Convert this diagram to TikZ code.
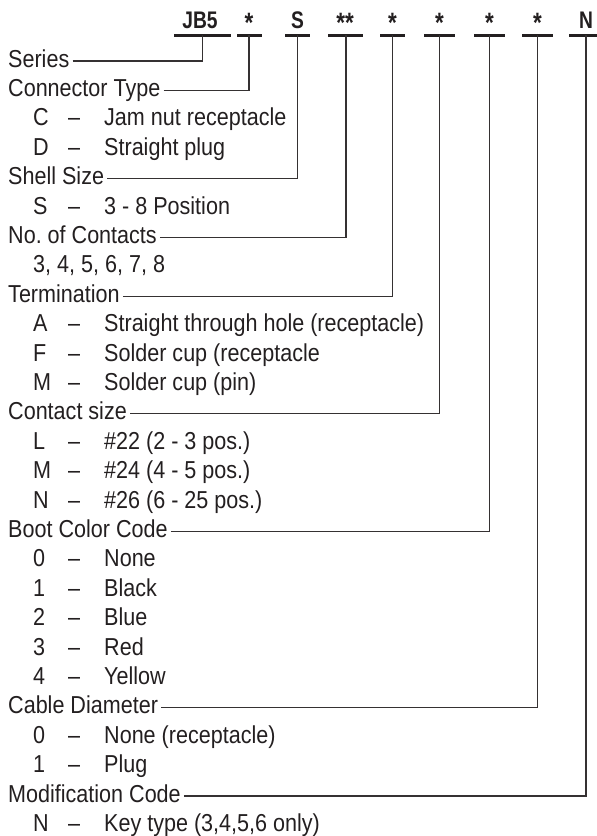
\documentclass[tikz,border=0pt]{standalone}
\usepackage{fontspec}
\setmainfont{Liberation Sans}[FakeStretch=0.88]
\newfontfamily\hdrfont{Liberation Sans}[FakeStretch=0.8]
\definecolor{ink}{HTML}{231F20}
\frenchspacing
\begin{document}
\begin{tikzpicture}[x=1bp,y=-1bp,
  lbl/.style={anchor=base west, inner sep=0, font=\fontsize{24.5bp}{29bp}\selectfont, text=ink},
  dsh/.style={anchor=base, inner sep=0, font=\fontsize{24.5bp}{29bp}\selectfont, text=ink},
  hdr/.style={anchor=base, inner sep=0, font=\hdrfont\bfseries\fontsize{24bp}{28bp}\selectfont, text=ink},
  hast/.style={anchor=base, inner sep=0, font=\hdrfont\bfseries\fontsize{28bp}{32bp}\selectfont, text=ink},
  uline/.style={line width=3bp, draw=ink},
  conn/.style={line width=1.3bp, draw=ink!92}]
\useasboundingbox (0,0) rectangle (597,836);

% header
\node[hdr] (h1) at (200,28) {JB5};
\node[hast] (h2) at (249,32) {*};
\node[hdr] (h3) at (297.5,28) {S};
\node[hast] (h4) at (345,32) {**};
\node[hast] (h5) at (392.5,32) {*};
\node[hast] (h6) at (439.5,32) {*};
\node[hast] (h7) at (489.5,32) {*};
\node[hast] (h8) at (537.5,32) {*};
\node[hdr] (h9) at (586,28) {N};

\coordinate (t1) at (202.5,35);
\coordinate (t2) at (249,35);
\coordinate (t3) at (297.5,35);
\coordinate (t4) at (346,35);
\coordinate (t5) at (392.5,35);
\coordinate (t6) at (439.5,35);
\coordinate (t7) at (489.5,35);
\coordinate (t8) at (537.5,35);
\coordinate (t9) at (586,35);

\draw[uline] (174,35) -- (231,35);
\draw[uline] (237,35) -- (262,35);
\draw[uline] (285,35) -- (310,35);
\draw[uline] (328,35) -- (363,35);
\draw[uline] (380,35) -- (405,35);
\draw[uline] (424,35) -- (455,35);
\draw[uline] (474,35) -- (505,35);
\draw[uline] (522,35) -- (553,35);
\draw[uline] (569,35) -- (597,35);

% labels
\node[lbl] (series) at (8,67) {Series};
\node[lbl] (ctype) at (8,96.4) {Connector Type};
\node[lbl] (cC) at (33,125.8) {C}; \node[dsh] (dC) at (74,125.8) {–}; \node[lbl] (xC) at (104,125.8) {Jam nut receptacle};
\node[lbl] (cD) at (33,155.2) {D}; \node[dsh] (dD) at (74,155.2) {–}; \node[lbl] (xD) at (104,155.2) {Straight plug};
\node[lbl] (shell) at (8,184.6) {Shell Size};
\node[lbl] (cS) at (33,214) {S}; \node[dsh] (dS) at (74,214) {–}; \node[lbl] (xS) at (104,214) {3 - 8 Position};
\node[lbl] (ncont) at (8,243.4) {No. of Contacts};
\node[lbl] (xN) at (33,272.8) {3, 4, 5, 6, 7, 8};
\node[lbl] (term) at (8,302.2) {Termination};
\node[lbl] (cA) at (33,331.6) {A}; \node[dsh] (dA) at (74,331.6) {–}; \node[lbl] (xA) at (104,331.6) {Straight through hole (receptacle)};
\node[lbl] (cF) at (33,361) {F}; \node[dsh] (dF) at (74,361) {–}; \node[lbl] (xF) at (104,361) {Solder cup (receptacle};
\node[lbl] (cM) at (33,390.4) {M}; \node[dsh] (dM) at (74,390.4) {–}; \node[lbl] (xM) at (104,390.4) {Solder cup (pin)};
\node[lbl] (csize) at (8,419.8) {Contact size};
\node[lbl] (cL2) at (33,449.2) {L}; \node[dsh] (dL2) at (74,449.2) {–}; \node[lbl] (xL2) at (104,449.2) {\#22 (2 - 3 pos.)};
\node[lbl] (cM2) at (33,478.6) {M}; \node[dsh] (dM2) at (74,478.6) {–}; \node[lbl] (xM2) at (104,478.6) {\#24 (4 - 5 pos.)};
\node[lbl] (cN2) at (33,508) {N}; \node[dsh] (dN2) at (74,508) {–}; \node[lbl] (xN2) at (104,508) {\#26 (6 - 25 pos.)};
\node[lbl] (boot) at (8,537.4) {Boot Color Code};
\node[lbl] (b0) at (33,566.8) {0}; \node[dsh] (db0) at (74,566.8) {–}; \node[lbl] (xb0) at (104,566.8) {None};
\node[lbl] (b1) at (33,596.2) {1}; \node[dsh] (db1) at (74,596.2) {–}; \node[lbl] (xb1) at (104,596.2) {Black};
\node[lbl] (b2) at (33,625.6) {2}; \node[dsh] (db2) at (74,625.6) {–}; \node[lbl] (xb2) at (104,625.6) {Blue};
\node[lbl] (b3) at (33,655) {3}; \node[dsh] (db3) at (74,655) {–}; \node[lbl] (xb3) at (104,655) {Red};
\node[lbl] (b4) at (33,684.4) {4}; \node[dsh] (db4) at (74,684.4) {–}; \node[lbl] (xb4) at (104,684.4) {Yellow};
\node[lbl] (cable) at (8,713.8) {Cable Diameter};
\node[lbl] (k0) at (33,743.2) {0}; \node[dsh] (dk0) at (74,743.2) {–}; \node[lbl] (xk0) at (104,743.2) {None (receptacle)};
\node[lbl] (k1) at (33,772.6) {1}; \node[dsh] (dk1) at (74,772.6) {–}; \node[lbl] (xk1) at (104,772.6) {Plug};
\node[lbl] (mod) at (8,802) {Modification Code};
\node[lbl] (cKN) at (33,831.4) {N}; \node[dsh] (dKN) at (74,831.4) {–}; \node[lbl] (xKN) at (104,831.4) {Key type (3,4,5,6 only)};

% connectors
\draw[conn] ([xshift=3bp,yshift=6bp]series.base east) -| (t1);
\draw[conn] ([xshift=3bp,yshift=6bp]ctype.base east) -| (t2);
\draw[conn] ([xshift=3bp,yshift=6bp]shell.base east) -| (t3);
\draw[conn] ([xshift=3bp,yshift=6bp]ncont.base east) -| (t4);
\draw[conn] ([xshift=3bp,yshift=6bp]term.base east) -| (t5);
\draw[conn] ([xshift=3bp,yshift=6bp]csize.base east) -| (t6);
\draw[conn] ([xshift=3bp,yshift=6bp]boot.base east) -| (t7);
\draw[conn] ([xshift=3bp,yshift=6bp]cable.base east) -| (t8);
\draw[conn] ([xshift=3bp,yshift=6bp]mod.base east) -| (t9);
\end{tikzpicture}
\end{document}
